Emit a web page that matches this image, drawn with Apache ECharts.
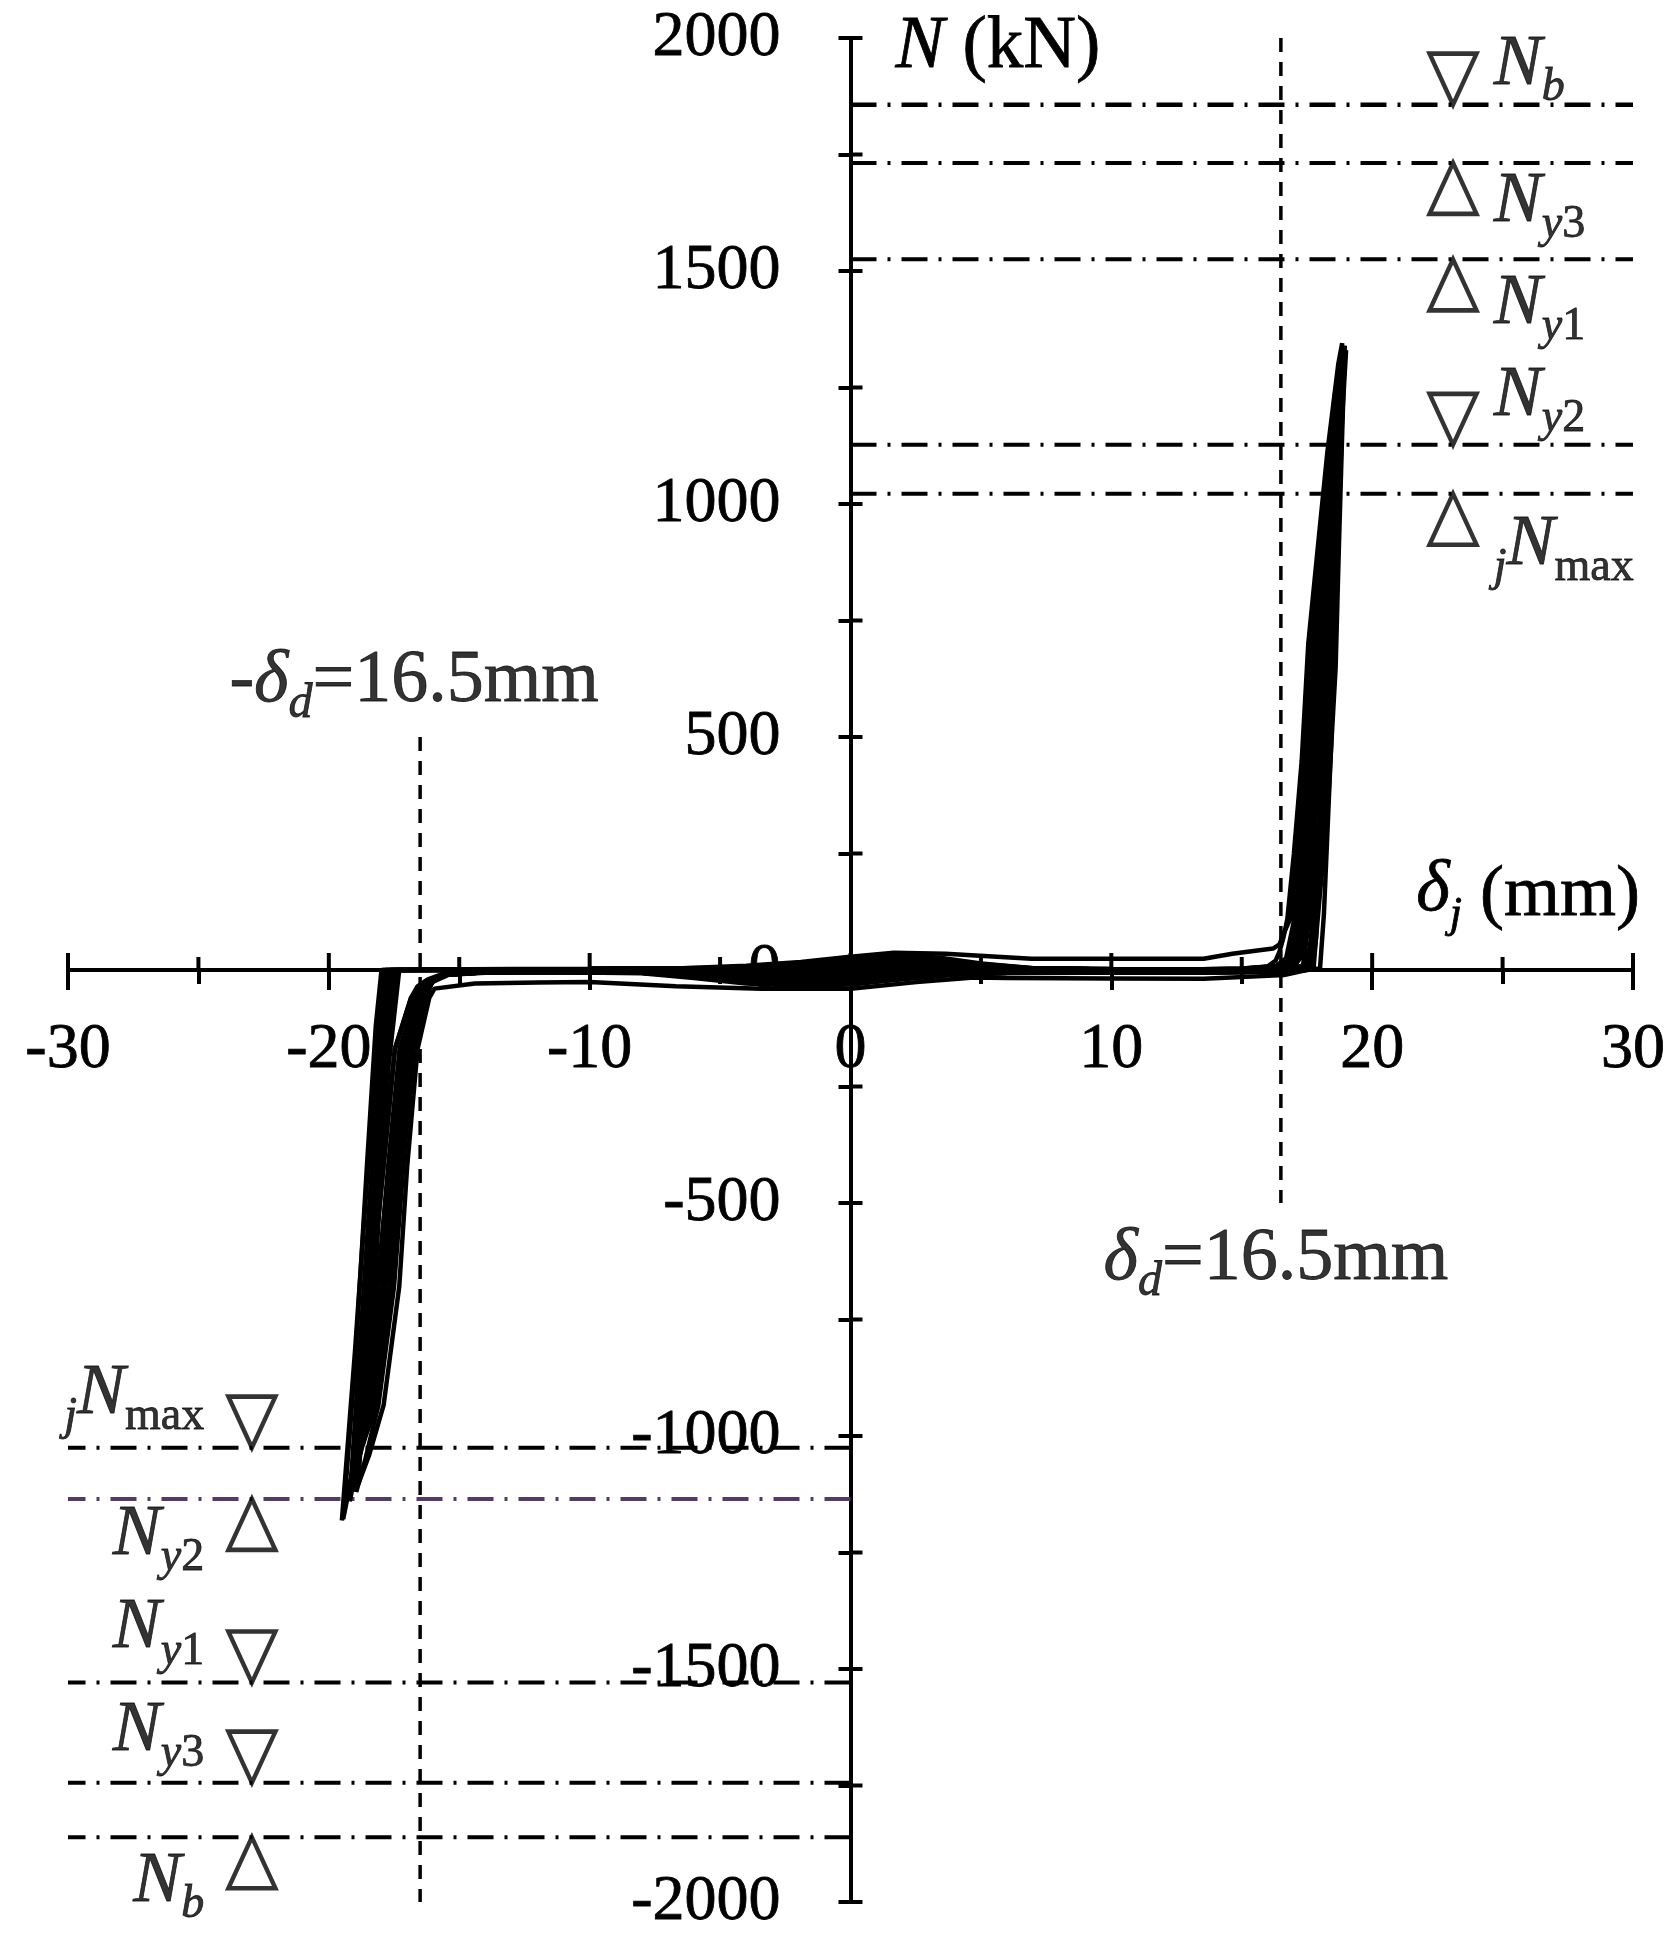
<!DOCTYPE html>
<html>
<head>
<meta charset="utf-8">
<title>N - δj</title>
<script src="https://cdn.jsdelivr.net/npm/echarts@6/dist/echarts.min.js"></script>
<style>
html, body { margin: 0; padding: 0; background: #fff; }
#chart { width: 1668px; height: 1952px; }
</style>
</head>
<body>
<div id="chart"></div>
<script>
// 滞回曲线 轴力 N - 位移 δj

// hysteresis cycles, [δj (mm), N (kN)]
const cycle1 = [
  [0, 0], [1, 13], [2, 14], [3.5, 11], [5, 6], [7, 3], [10, 1], [13, 0], [15, 2], [16.0, 8], [16.3, 20],
  [16.45, 40], [16.6, 70], [16.75, 110], [17.0, 250], [17.3, 450], [17.55, 700], [17.94, 920], [18.28, 1110], [18.7, 1300], [18.85, 1345],
  [18.6, 900], [18.43, 485], [18.15, 120], [18.0, 3],
  [17, -2], [15, -4], [12, -5], [9, -5], [6, -5], [4, -5], [2, -10], [0, -14], [-2, -16], [-4, -14], [-6, -8], [-8, -6], [-11, -4], [-14, -4], [-15.6, -8], [-16.2, -20],
  [-16.6, -35], [-16.85, -60], [-17.47, -170], [-17.91, -424], [-18.36, -679], [-18.74, -934], [-19.1, -1080], [-19.45, -1178],
  [-19.0, -850], [-18.55, -430], [-18.2, -120], [-17.98, 0]
];
const cycle2 = [
  [-17.98, 0], [-17, 0], [-14, 1], [-10, 2], [-7, 3], [-5, 4], [-3, 7], [-1, 13], [1, 21], [2, 22], [3.5, 18], [5, 10], [7, 3], [10, 1], [13, 0], [15, 2], [16.3, 6], [16.8, 14],
  [16.96, 28], [17.2, 100], [17.42, 250], [17.69, 450], [17.97, 700], [18.28, 920], [18.45, 1060], [18.58, 1180],
  [18.3, 760], [17.95, 330], [17.68, 70], [17.5, 2],
  [17, -2], [15, -4], [12, -5], [9, -5], [6, -6], [4, -9], [2, -18], [0, -27], [-2, -30], [-4, -26], [-6, -15], [-8, -6], [-11, -4], [-14, -5], [-15.6, -10], [-16.0, -25],
  [-16.3, -45], [-16.53, -80], [-17.11, -200], [-17.56, -424], [-17.91, -679], [-18.39, -934], [-18.9, -1060],
  [-18.5, -640], [-18.1, -250], [-17.8, 0]
];
const cycle3 = [
  [-17.8, 0], [-17, 0], [-14, 1], [-10, 2], [-7, 3], [-5, 4], [-3, 3], [-1, 6], [1, 9.5], [2, 10], [3.5, 8], [5, 4.5], [7, 3], [10, 1], [13, 0], [15, 2], [16.3, 8],
  [16.7, 25], [16.98, 100], [17.21, 250], [17.5, 450], [17.76, 700], [18.11, 920], [18.41, 1110], [18.72, 1290],
  [18.45, 820], [18.1, 380], [17.82, 80], [17.66, 2],
  [16.62, -11], [13.54, -19], [10, -18], [6, -17], [4.73, -16], [2.53, -26], [0, -40], [-3.4, -40], [-6.7, -35], [-10, -26], [-12, -27], [-14.4, -29], [-15.95, -40],
  [-16.15, -60], [-16.6, -170], [-17.0, -424], [-17.3, -679], [-17.9, -934], [-18.45, -1040], [-18.87, -1103],
  [-18.45, -700], [-17.9, -250], [-17.4, 0]
];
const cycle4 = [
  [-17.4, 0], [-16, 0], [-14, 1], [-10, 2], [-7, 3], [-5, 4], [-3, 5], [-1, 11], [1, 17], [2, 18], [3.5, 14], [5, 8], [7, 3], [10, 1], [13, 0], [15, 2], [16.3, 6], [16.9, 12],
  [17.05, 20], [17.22, 40], [17.43, 100], [17.63, 250], [17.89, 450], [18.18, 700], [18.44, 920], [18.66, 1110], [18.88, 1300], [18.92, 1330],
  [18.8, 1100], [18.65, 860], [18.5, 600], [18.2, 300], [17.75, 80], [17.4, 1],
  [16.5, -3], [15, -4], [12, -5], [9, -5], [6, -5], [4, -4], [2, -7], [0, -11], [-2, -12], [-4, -10], [-6, -6], [-8, -5], [-11, -4], [-14, -5], [-15.6, -10], [-16.2, -25],
  [-16.69, -60], [-17.29, -170], [-17.73, -424], [-18.13, -679], [-18.57, -934], [-18.9, -1060], [-19.2, -1140],
  [-18.75, -760], [-18.2, -300], [-17.66, 0]
];
const cycle5 = [
  [-17.66, 0], [-16, 1], [-13, 2], [-10, 2], [-6.7, 3], [-4, 9], [-1.9, 17], [-0.1, 28], [1.66, 37], [3.64, 35], [6.94, 24], [10, 24], [13.54, 24], [14.64, 35], [15.6, 42], [16.2, 46],
  [16.45, 55], [16.58, 75], [16.86, 110], [17.1, 250], [17.4, 450], [17.66, 700], [18.02, 920], [18.34, 1110], [18.6, 1250],
  [18.35, 780], [18.05, 340], [17.85, 70], [17.75, 2],
  [16.8, -3], [15, -5], [12, -6], [9, -6], [6, -6], [4, -6], [2, -12], [0, -18], [-2, -20], [-4, -17], [-6, -10], [-8, -6], [-11, -5], [-14, -5], [-15.6, -10], [-16.0, -22],
  [-16.36, -60], [-16.93, -170], [-17.38, -424], [-17.68, -679], [-18.22, -934], [-18.7, -1020],
  [-18.3, -640], [-17.85, -230], [-17.5, 0]
];
const cycle6 = [
  [-17.5, 0], [-16, 0], [-14, 1], [-10, 2], [-7, 3], [-5, 4], [-3, 8], [-1, 17], [1, 27], [2, 28], [3.5, 22], [5, 13], [7, 4], [10, 2], [13, 1], [15, 3], [16.4, 8], [16.9, 16],
  [17.09, 30], [17.31, 100], [17.52, 250], [17.79, 450], [18.08, 700], [18.36, 920], [18.6, 1120],
  [18.5, 900], [18.35, 650], [18.1, 380], [17.8, 120], [17.55, 1],
  [16.5, -3], [15, -4], [12, -6], [9, -6], [6, -6], [4, -7], [2, -14], [0, -22], [-2, -24], [-4, -20], [-6, -12], [-8, -6], [-11, -5], [-14, -6], [-15.4, -10], [-16.0, -25],
  [-16.53, -60], [-17.11, -170], [-17.56, -424], [-17.91, -679], [-18.3, -900], [-18.6, -980],
  [-18.2, -600], [-17.7, -200], [-17.3, 0]
];
const cycle7 = [
  [-17.3, 0], [-16, 0], [-14, 1], [-10, 2], [-7, 3], [-5, 3], [-3, 2], [-1, 5], [1, 8], [2, 8], [3.5, 6], [5, 4], [7, 3], [10, 1], [13, 0], [15, 2], [16.3, 6], [16.7, 14],
  [16.83, 30], [17.09, 100], [17.31, 250], [17.59, 450], [17.87, 700], [18.19, 920], [18.47, 1110], [18.78, 1310],
  [18.65, 1050], [18.5, 800], [18.3, 520], [18.0, 250], [17.75, 60], [17.6, 1],
  [16.6, -3], [15, -5], [12, -6], [9, -6], [6, -7], [4, -10], [2, -20], [0, -31], [-2, -34], [-4, -29], [-6, -17], [-8, -7], [-11, -5], [-14, -5], [-15.5, -10], [-16.3, -24],
  [-16.85, -60], [-17.47, -170], [-17.91, -424], [-18.36, -679], [-18.74, -934], [-19.15, -1090], [-19.5, -1181],
  [-19.0, -820], [-18.4, -340], [-17.95, 0]
];
const cycle8 = [
  [-17.95, 0], [-16.5, 0], [-14, 1], [-10, 2], [-7, 3], [-5, 5], [-3, 10], [-1, 19], [1, 30], [2, 32], [3.5, 26], [5, 14], [7, 4], [10, 2], [13, 1], [15, 3], [16.5, 8], [17.1, 15],
  [17.3, 30], [17.5, 100], [17.7, 250], [17.95, 450], [18.25, 700], [18.5, 920], [18.7, 1110], [18.9, 1280], [19.0, 1330],
  [18.77, 1108], [18.64, 917], [18.58, 725], [18.32, 533], [17.68, 149], [17.35, 10],
  [16.5, -2], [15, -3], [12, -4], [9, -4], [6, -4], [4, -3], [2, -5], [0, -7], [-2, -8], [-4, -7], [-6, -5], [-8, -4], [-11, -3], [-14, -4], [-15.5, -8], [-16.1, -22],
  [-16.25, -60], [-16.75, -170], [-17.15, -424], [-17.5, -679], [-18.1, -934], [-18.6, -1050], [-18.95, -1120],
  [-18.55, -760], [-18.1, -320], [-17.66, 0]
];
const cycle9 = [
  [-17.66, 0], [-17, 0], [-14, 1], [-10, 2], [-7, 3], [-5, 4], [-3, 5], [-1, 10], [1, 15], [2, 16], [3.5, 13], [5, 7], [7, 3], [10, 1], [13, 0], [15, 2], [16.3, 6], [16.6, 14],
  [16.75, 20], [17.01, 100], [17.26, 250], [17.56, 450], [17.85, 700], [18.15, 920], [18.43, 1110], [18.6, 1200],
  [18.5, 1000], [18.38, 750], [18.15, 450], [17.85, 180], [17.6, 40], [17.5, 1],
  [17, -2], [15, -4], [12, -5], [9, -5], [6, -6], [4, -7], [2, -13], [0, -20], [-2, -22], [-4, -19], [-6, -11], [-8, -6], [-11, -4], [-14, -5], [-15.6, -10], [-16.1, -24],
  [-16.46, -60], [-17.04, -170], [-17.48, -424], [-17.81, -679], [-18.32, -934], [-18.8, -1040],
  [-18.45, -700], [-17.95, -260], [-17.55, 0]
];
const cycle10 = [
  [-17.55, 0], [-16.5, 0], [-14, 1], [-10, 2], [-7, 3], [-5, 4], [-3, 7], [-1, 14], [1, 23], [2, 24], [3.5, 19], [5, 11], [7, 3], [10, 1], [13, 0], [15, 2], [16.4, 7], [16.85, 14],
  [17.0, 20], [17.24, 100], [17.49, 250], [17.79, 450], [18.07, 700], [18.34, 920], [18.57, 1110], [18.78, 1270],
  [18.7, 1050], [18.6, 820], [18.45, 560], [18.15, 260], [17.85, 70], [17.7, 1],
  [17, -2], [15, -3], [12, -4], [9, -4], [6, -5], [4, -5], [2, -8], [0, -13], [-2, -14], [-4, -12], [-6, -7], [-8, -5], [-11, -4], [-14, -4], [-15.6, -9], [-16.2, -22],
  [-16.59, -60], [-17.18, -170], [-17.63, -424], [-17.99, -679], [-18.47, -934], [-18.85, -1050], [-19.1, -1110],
  [-18.7, -760], [-18.25, -330], [-17.85, 0]
];
const cycle11 = [
  [-17.85, 0], [-17, 0], [-14, 1], [-10, 2], [-7, 3], [-5, 3], [-3, 4], [-1, 7], [1, 11], [2, 12], [3.5, 10], [5, 5], [7, 3], [10, 1], [13, 0], [15, 2], [16.4, 6], [16.95, 12],
  [17.17, 20], [17.39, 100], [17.64, 250], [17.94, 450], [18.23, 700], [18.46, 920], [18.65, 1110], [18.9, 1300], [18.95, 1340],
  [18.85, 1150], [18.72, 900], [18.6, 650], [18.3, 350], [17.85, 100], [17.45, 2],
  [16.6, -3], [15, -4], [12, -5], [9, -5], [6, -6], [4, -8], [2, -16], [0, -23], [-2, -26], [-4, -22], [-6, -13], [-8, -6], [-11, -4], [-14, -5], [-15.6, -10], [-16.0, -22],
  [-16.3, -60], [-16.84, -170], [-17.3, -424], [-17.59, -679], [-18.14, -934], [-18.6, -1000],
  [-18.2, -640], [-17.8, -240], [-17.45, 0]
];
const cycles = [cycle1, cycle2, cycle3, cycle4, cycle5, cycle6, cycle7, cycle8, cycle9, cycle10, cycle11];

// 特征轴力 (kN)
const posNames = ['Nb', 'Ny3', 'Ny1', 'Ny2', 'jNmax'];
const posLevels = [1857, 1732, 1525, 1127, 1022];
const posMarks = ['down', 'up', 'up', 'down', 'up'];
const negNames = ['jNmax', 'Ny2', 'Ny1', 'Ny3', 'Nb'];
const negLevels = [-1025, -1135, -1529, -1744, -1861];
const negMarks = ['down', 'up', 'down', 'down', 'up'];
const posMarkX = 23.1;
const negMarkX = -22.95;

// δd = 16.5 mm
const deltaD = 16.5;
const posDashRange = [2000, -500];
const negDashRange = [500, -2000];

// axes
const xMin = -30, xMax = 30, xStep = 10;
const yMin = -2000, yMax = 2000, yStep = 500;
const xTickVals = [-30, -25, -20, -15, -10, -5, 0, 5, 10, 15, 20, 25, 30];
const yTickVals = [-2000, -1750, -1500, -1250, -1000, -750, -500, -250, 0, 250, 500, 750, 1000, 1250, 1500, 1750, 2000];

const FONT = '"Liberation Serif", "Times New Roman", serif';
const BLACK = '#000';
// a thin outline makes the serif glyphs as heavy as the original
const INK = { color: BLACK, textBorderColor: BLACK, textBorderWidth: 0.8 };

function txt(o) { return Object.assign({ fontFamily: FONT }, INK, o); }

const labelText = {
  Nb: '{N|N}{s|b}',
  Ny3: '{N|N}{s|y}{n|3}',
  Ny1: '{N|N}{s|y}{n|1}',
  Ny2: '{N|N}{s|y}{n|2}',
  jNmax: '{s|j}{N|N}{n|max}'
};
const labelRich = {
  N: txt({ fontStyle: 'italic', fontSize: 72, lineHeight: 72, verticalAlign: 'top' }),
  s: txt({ fontStyle: 'italic', fontSize: 46, verticalAlign: 'top', padding: [36, 0, 0, 0] }),
  n: txt({ fontSize: 46, verticalAlign: 'top', padding: [36, 0, 0, 0] })
};
// label nudges (px)
const posLabelDy = [-9.5, 18.5, 24.5, -18.5, 30.5];
const negLabelDy = [-23.5, 15.5, -23.5, -21.5, 24];

const TRI_UP = 'path://M5,0L10,10L0,10Z';
const TRI_DOWN = 'path://M0,0L10,0L5,10Z';

function markItems(names, levels, marks, x, side, dys) {
  return names.map((nm, i) => ({
    value: [x, levels[i]],
    symbol: marks[i] === 'up' ? TRI_UP : TRI_DOWN,
    symbolOffset: [0, marks[i] === 'up' ? 25.5 : -25.5],
    label: {
      show: true,
      color: BLACK,
      position: side,
      distance: side === 'right' ? 15 : 22,
      offset: [0, dys[i]],
      formatter: labelText[nm],
      rich: labelRich
    }
  }));
}

const W = 1668, H = 1952;
const grid = { left: 68, right: 35, top: 38, bottom: 50 };
const gridW = W - grid.left - grid.right;
const gridH = H - grid.top - grid.bottom;
// 坐标轴放在零点处 (标签跟随)
const xAxisOffset = -gridH * (0 - yMin) / (yMax - yMin);
const yAxisOffset = -gridW * (0 - xMin) / (xMax - xMin);

const myChart = echarts.init(document.getElementById('chart'));

const series = [];

cycles.forEach((c, i) => {
  series.push({
    name: 'cycle' + (i + 1),
    type: 'line',
    data: c,
    symbol: 'none',
    lineStyle: { color: BLACK, width: 4.5 },
    z: 3
  });
});

posLevels.forEach((v, i) => {
  series.push({
    type: 'line',
    data: [[0, v], [xMax, v]],
    symbol: 'none',
    lineStyle: { color: BLACK, width: i === 0 ? 4.5 : 4, type: [26, 11, 3, 11], cap: 'butt' },
    z: 2
  });
});
negLevels.forEach((v, i) => {
  series.push({
    type: 'line',
    data: [[0, v], [xMin, v]],
    symbol: 'none',
    lineStyle: { color: negNames[i] === 'Ny2' ? '#553a66' : BLACK, width: 4, type: [26, 11, 3, 11], cap: 'butt' },
    z: 2
  });
});

// δd 虚线
series.push({
  type: 'line',
  data: [[deltaD, posDashRange[0]], [deltaD, posDashRange[1]]],
  symbol: 'none',
  lineStyle: { color: BLACK, width: 3.5, type: [14, 10] },
  z: 2
});
series.push({
  type: 'line',
  data: [[-deltaD, negDashRange[0]], [-deltaD, negDashRange[1]]],
  symbol: 'none',
  lineStyle: { color: BLACK, width: 3.5, type: [14, 10] },
  z: 2
});

const ddRich = {
  m: txt({ fontSize: 74, lineHeight: 74, verticalAlign: 'top' }),
  i: txt({ fontStyle: 'italic', fontSize: 74, lineHeight: 74, verticalAlign: 'top' }),
  d: txt({ fontStyle: 'italic', fontSize: 48, verticalAlign: 'top', padding: [36, 0, 0, 0] })
};
series.push({
  type: 'scatter',
  symbolSize: 1,
  itemStyle: { color: 'rgba(0,0,0,0)' },
  z: 4,
  data: [
    {
      value: [-deltaD, negDashRange[0]],
      label: { show: true, color: BLACK, position: 'top', distance: 8, offset: [-6, 0], formatter: '{m|-}{i|δ}{d|d}{m|=16.5mm}', rich: ddRich }
    },
    {
      value: [deltaD, posDashRange[1]],
      label: { show: true, color: BLACK, position: 'bottom', distance: 19, offset: [-5, 0], formatter: '{i|δ}{d|d}{m|=16.5mm}', rich: ddRich }
    }
  ]
});

// 三角标记
series.push({
  type: 'scatter',
  symbolSize: [47, 51],
  symbolKeepAspect: false,
  itemStyle: { color: 'rgba(255,255,255,0)', borderColor: BLACK, borderWidth: 4.5 },
  z: 5,
  data: markItems(posNames, posLevels, posMarks, posMarkX, 'right', posLabelDy)
    .concat(markItems(negNames, negLevels, negMarks, negMarkX, 'left', negLabelDy))
});

// 坐标轴另一侧的刻度
series.push({
  type: 'custom',
  silent: true,
  z: 1,
  data: xTickVals.map(v => [v, 0]),
  renderItem: function (params, api) {
    const v = api.value(0);
    const p = api.coord([v, 0]);
    const len = v % 10 === 0 ? 17 : 13;
    return { type: 'line', shape: { x1: p[0], y1: p[1], x2: p[0], y2: p[1] - len }, style: { stroke: BLACK, lineWidth: 4 } };
  }
});
series.push({
  type: 'custom',
  silent: true,
  z: 1,
  data: yTickVals.map(v => [0, v]),
  renderItem: function (params, api) {
    const p = api.coord([0, api.value(1)]);
    return { type: 'line', shape: { x1: p[0], y1: p[1], x2: p[0] + 12, y2: p[1] }, style: { stroke: BLACK, lineWidth: 4 } };
  }
});

const tickStyle = { color: BLACK, width: 4 };

myChart.setOption({
  animation: false,
  backgroundColor: '#fff',
  grid: Object.assign({ containLabel: false, outerBoundsMode: 'none' }, grid),
  xAxis: {
    type: 'value', min: xMin, max: xMax, interval: xStep,
    position: 'bottom', offset: xAxisOffset,
    axisLine: { onZero: false, lineStyle: { color: BLACK, width: 4 } },
    axisTick: { length: 20, lineStyle: tickStyle },
    minorTick: { show: true, splitNumber: 2, length: 14, lineStyle: tickStyle },
    axisLabel: txt({ margin: 48, fontSize: 64, formatter: v => String(v) }),
    splitLine: { show: false },
    name: '{i|δ}{s|j} (mm)',
    nameLocation: 'end',
    nameGap: 7,
    nameMoveOverlap: false,
    nameTextStyle: txt({
      align: 'right', verticalAlign: 'bottom', padding: [0, 0, 33, 0], fontSize: 72,
      rich: {
        i: txt({ fontStyle: 'italic', fontSize: 72, lineHeight: 72, verticalAlign: 'top' }),
        s: txt({ fontStyle: 'italic', fontSize: 44, verticalAlign: 'top', padding: [38, 0, 0, 0] })
      }
    })
  },
  yAxis: {
    type: 'value', min: yMin, max: yMax, interval: yStep,
    position: 'left', offset: yAxisOffset,
    axisLine: { onZero: false, lineStyle: { color: BLACK, width: 4 } },
    axisTick: { length: 12, lineStyle: tickStyle },
    minorTick: { show: true, splitNumber: 2, length: 12, lineStyle: tickStyle },
    axisLabel: txt({ margin: 70, fontSize: 64, formatter: v => String(v) }),
    splitLine: { show: false },
    name: '{i|N} (kN)',
    nameLocation: 'end',
    nameGap: -10,
    nameMoveOverlap: false,
    nameTextStyle: txt({
      align: 'left', verticalAlign: 'middle', padding: [0, 0, 0, 45], fontSize: 73,
      rich: {
        i: txt({ fontStyle: 'italic', fontSize: 73 })
      }
    })
  },
  series: series
});
</script>
</body>
</html>
